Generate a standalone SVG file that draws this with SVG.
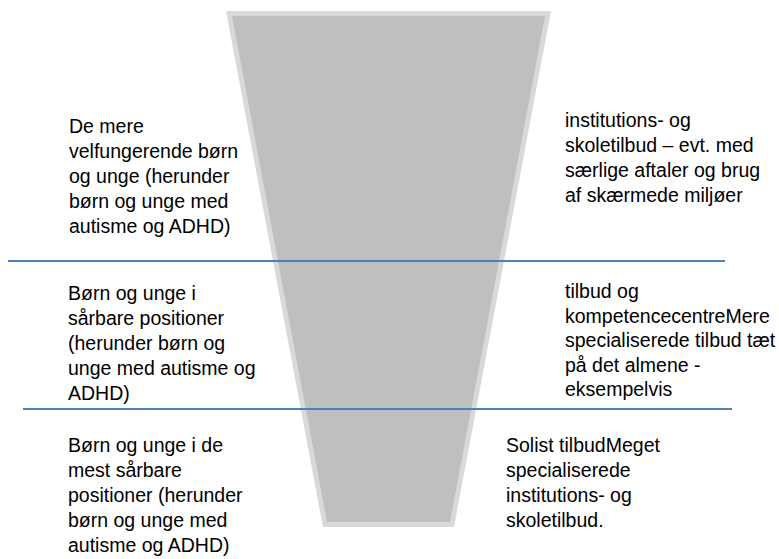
<svg xmlns="http://www.w3.org/2000/svg" width="779" height="559" viewBox="0 0 779 559">
<style>
.t{font-family:"Liberation Sans",Arial,sans-serif;font-size:19.5px;fill:#000}
.sep{stroke:#4f81bd;stroke-width:2;fill:none}
</style>
<rect width="779" height="559" fill="#ffffff"/>
<g id="funnel">
<polygon points="226,11 551,11 454,527 323,527" fill="#d9d9d9"/>
<polygon points="232,16 545,16 450,522 327,522" fill="#bfbfbf"/>
</g>
<g id="connectors">
<line class="sep" x1="8" y1="261" x2="725" y2="261"/>
<line class="sep" x1="23" y1="409" x2="732" y2="409"/>
</g>
<g id="left-top">
<text class="t" x="69" y="133">De mere</text>
<text class="t" x="69" y="158">velfungerende børn</text>
<text class="t" x="69" y="183">og unge (herunder</text>
<text class="t" x="69" y="208">børn og unge med</text>
<text class="t" x="69" y="233">autisme og ADHD)</text>
</g>
<g id="left-middle">
<text class="t" x="68" y="300">Børn og unge i</text>
<text class="t" x="68" y="325">sårbare positioner</text>
<text class="t" x="68" y="350">(herunder børn og</text>
<text class="t" x="68" y="375">unge med autisme og</text>
<text class="t" x="68" y="400">ADHD)</text>
</g>
<g id="left-bottom">
<text class="t" x="68" y="452">Børn og unge i de</text>
<text class="t" x="68" y="477">mest sårbare</text>
<text class="t" x="68" y="502">positioner (herunder</text>
<text class="t" x="68" y="527">børn og unge med</text>
<text class="t" x="68" y="552">autisme og ADHD)</text>
</g>
<g id="right-top">
<text class="t" x="565" y="127">institutions- og</text>
<text class="t" x="565" y="152">skoletilbud – evt. med</text>
<text class="t" x="565" y="177">særlige aftaler og brug</text>
<text class="t" x="565" y="202">af skærmede miljøer</text>
</g>
<g id="right-middle">
<text class="t" x="565" y="298">tilbud og</text>
<text class="t" x="565" y="322.5">kompetencecentreMere</text>
<text class="t" x="565" y="347">specialiserede tilbud tæt</text>
<text class="t" x="565" y="371.5">på det almene -</text>
<text class="t" x="565" y="396">eksempelvis</text>
</g>
<g id="right-bottom">
<text class="t" x="506" y="452">Solist tilbudMeget</text>
<text class="t" x="506" y="477">specialiserede</text>
<text class="t" x="506" y="502">institutions- og</text>
<text class="t" x="506" y="527">skoletilbud.</text>
</g>
</svg>
